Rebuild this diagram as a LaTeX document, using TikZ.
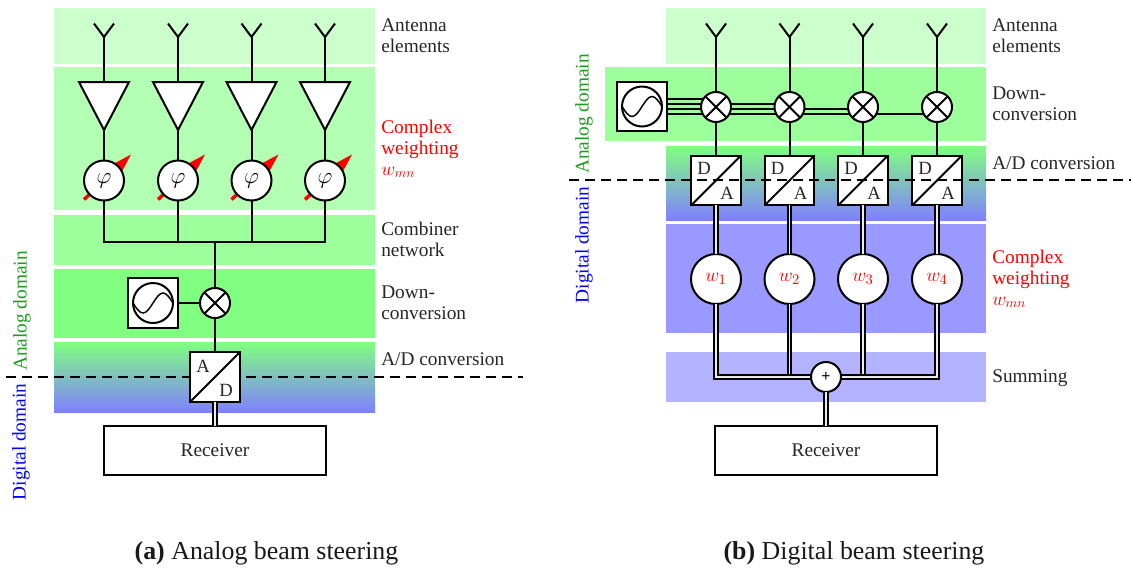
\documentclass[tikz,border=0pt]{standalone}
\usepackage{fontspec}
\setmainfont{Liberation Serif}
\usetikzlibrary{calc}
\definecolor{bandA}{HTML}{CCFFCC}
\definecolor{bandB}{HTML}{B3FFB3}
\definecolor{bandC}{HTML}{9CFF9C}
\definecolor{bandD}{HTML}{80FF80}
\definecolor{bandE}{HTML}{8080FF}
\definecolor{bandF}{HTML}{9999FF}
\definecolor{bandG}{HTML}{B3B3FF}
\definecolor{anagreen}{HTML}{1E9A1E}
\tikzset{
  wire/.style={line width=1.5pt},
  dbl/.style={line width=1.2pt,double=white!92!black,double distance=1.4pt},
  circ/.style={circle,draw,line width=1.5pt,fill=white,inner sep=0pt,outer sep=0pt,minimum size=#1},
  mixer/.style={circ=22.5pt,path picture={
    \draw[line width=1.5pt] (path picture bounding box.45)--(path picture bounding box.225);
    \draw[line width=1.5pt] (path picture bounding box.135)--(path picture bounding box.315);}},
  sq/.style={rectangle,draw,line width=1.7pt,fill=white,inner sep=0pt,outer sep=0pt,minimum size=37pt},
  conv/.style={sq,path picture={
    \draw[line width=1.5pt] (path picture bounding box.south west)--(path picture bounding box.north east);}},
  recv/.style={rectangle,draw,line width=1.5pt,fill=white,outer sep=0pt,minimum width=166pt,minimum height=36.5pt,lab},
  lab/.style={font=\fontsize{14.5}{15.7}\selectfont,inner sep=0pt,text=black!85},
  side/.style={lab,anchor=base west,align=left},
  redlab/.style={side,text=red},
  captext/.style={font=\fontsize{19.4}{22}\selectfont,inner sep=0pt,text=black!90,anchor=base},
  dom/.style={lab,rotate=90,anchor=center},
  amp/.style={draw,line width=1.5pt,fill=white,line join=miter},
  dashline/.style={line width=1.4pt,dash pattern=on 7.5pt off 4.5pt}
}
\begin{document}
\begin{tikzpicture}[x=0.75pt,y=-0.75pt]
\useasboundingbox (0,0) rectangle (1131,569);
% ---------- left bands
\fill[bandA] (54,8) rectangle (375,63.5);
\fill[bandB] (54,67) rectangle (375,210);
\fill[bandC] (54,215) rectangle (375,265);
\fill[bandD] (54,269) rectangle (375,338);
\shade[top color=bandD,bottom color=bandE] (54,342) rectangle (375,412);
% ---------- left dashed line
\coordinate (dlA) at (6,377);
\coordinate (dlB) at (523,377);
\draw[dashline] (dlA) -- (dlB);
% ---------- left columns
\coordinate (bus) at (215,241.5);
\foreach \i/\x in {1/104,2/178,3/251.5,4/325}{
  \coordinate (ant\i) at (\x,37);
  \coordinate (ampT\i) at (\x,82);
  \coordinate (ampP\i) at (\x,130);
  \coordinate (busT\i) at (\x,241.5);
  \draw[wire,line join=miter] ($(ant\i)+(-10,-13.5)$) -- (ant\i) -- ($(ant\i)+(10,-13.5)$);
  \draw[wire] (ant\i) -- (ampT\i);
  \draw[amp] ($(ampT\i)+(-25,0)$) -- ($(ampT\i)+(25,0)$) -- (ampP\i) -- cycle;
  \coordinate (phiC\i) at (\x,180.5);
  \draw[line width=2.6pt,red] ($(phiC\i)+(-20,19)$) -- ($(phiC\i)+(6,-5)$);
  \fill[red] ($(phiC\i)+(27,-26)$) -- ($(phiC\i)+(-0.3,-11.3)$) -- ($(phiC\i)+(12.3,1.3)$) -- cycle;
  \draw[wire] (ampP\i) -- (phiC\i);
  \draw[wire] (phiC\i) -- (busT\i);
  \node[circ=30pt] (phi\i) at (phiC\i) {\fontsize{19}{19}\selectfont$\varphi$};
}
\draw[wire,line cap=rect] (busT1) -- (busT4);
\node[mixer] (mixL) at (215,303) {};
\node[sq] (loL) at (153,303) {};
\node[circ=30pt,fill=none] (loLc) at (loL) {};
\draw[line width=1.1pt] ([xshift=-15pt]loLc.center) sin ++(10,10) cos ++(10,-10) sin ++(10,-10) cos ++(10,10);
\node[conv] (adL) at (215,377) {};
\node[lab,font=\fontsize{14}{14}\selectfont] (adLa) at (203,366) {A};
\node[lab,font=\fontsize{14}{14}\selectfont] (adLd) at (226,390) {D};
\node[recv] (rxL) at (215,450.5) {\raisebox{-4.8pt}[0pt][0pt]{Receiver}};
\draw[wire] (bus) -- (mixL);
\draw[wire] (mixL) -- (adL);
\draw[wire] (loL) -- (mixL);
\draw[dbl] (adL) -- (rxL);
% ---------- left labels
\node[side] (l1) at (381,31) {Antenna};
\node[side] (l2) at (381,52) {elements};
\node[redlab] (l3) at (381,133) {Complex};
\node[redlab] (l4) at (381,154) {weighting};
\node[redlab] (l5) at (381,175) {$w_{mn}$};
\node[side] (l6) at (381,235) {Combiner};
\node[side] (l7) at (381,256) {network};
\node[side] (l8) at (381,298.5) {Down-};
\node[side] (l9) at (381,319.5) {conversion};
\node[side] (l10) at (381,365) {A/D conversion};
\node[dom,text=anagreen] (l11) at (22,311) {Analog domain};
\node[dom,text=blue] (l12) at (21,442) {Digital domain};
\node[captext] (capA) at (266.5,559) {\textbf{(a)} Analog beam steering};
% ---------- right bands
\fill[bandA] (666,8) rectangle (986,63.5);
\fill[bandC] (605,67) rectangle (986,141);
\shade[top color=bandD,bottom color=bandE] (666,146) rectangle (986,220);
\fill[bandF] (666,224) rectangle (986,333);
\fill[bandG] (666,352) rectangle (986,402);
% ---------- right columns
\node[sq] (loR) at (642,106.5) {};
\node[circ=30pt,fill=none] (loRc) at (loR) {};
\draw[line width=1.1pt] ([xshift=-15pt]loRc.center) sin ++(10,10) cos ++(10,-10) sin ++(10,-10) cos ++(10,10);
\foreach \i/\x in {1/716,2/789.5,3/863,4/937}{
  \coordinate (antR\i) at (\x,37);
  \draw[wire,line join=miter] ($(antR\i)+(-10,-13.5)$) -- (antR\i) -- ($(antR\i)+(10,-13.5)$);
  \node[conv] (da\i) at (\x,180.5) {};
  \draw[wire] (antR\i) -- (da\i);
  \node[circ=37.5pt] (w\i) at (\x,279) {\textcolor{red}{\fontsize{15}{15}\selectfont$w_{\i}$}};
  \draw[dbl] (da\i) -- (w\i);
}
\coordinate (sumL) at (716,377);
\coordinate (sumR) at (937,377);
\coordinate (sumM2) at (789.5,376);
\coordinate (sumM3) at (863,376);
\draw[dbl] (w2) -- (sumM2);
\draw[dbl] (w3) -- (sumM3);
\draw[dbl,line join=miter] (w1) -- (sumL) -- (sumR) -- (w4);
% LO feed lines
\foreach \n/\y in {1/99.3,2/104.3,3/109.3,4/114}{
  \coordinate (feed\n) at (667,\y);
}
\coordinate (m1a) at (716,99.3);
\coordinate (m2a) at (789.5,104.3);
\coordinate (m3a) at (863,109.3);
\coordinate (m4a) at (937,114);
\draw[line width=1.25pt] (feed1) -- (m1a);
\draw[line width=1.25pt] (feed2) -- (m2a);
\draw[line width=1.25pt] (feed3) -- (m3a);
\draw[line width=1.25pt] (feed4) -- (m4a);
\foreach \i/\x in {1/716,2/789.5,3/863,4/937}{
  \node[mixer] (mixR\i) at (\x,107) {};
  \node[lab,font=\fontsize{14}{14}\selectfont] (daD\i) at ($(da\i)+(-12,-12)$) {D};
  \node[lab,font=\fontsize{14}{14}\selectfont] (daA\i) at ($(da\i)+(11,13)$) {A};
}
\node[circ=22.5pt] (sum) at (826,377) {\fontsize{12}{12}\selectfont\textbf{+}};
\node[recv] (rxR) at (826,450.5) {\raisebox{-4.8pt}[0pt][0pt]{Receiver}};
\draw[dbl] (sum) -- (rxR);
\coordinate (drA) at (569,180);
\coordinate (drB) at (1131,180);
\draw[dashline] (drA) -- (drB);
% ---------- right labels
\node[side] (r1) at (992,31) {Antenna};
\node[side] (r2) at (992,52) {elements};
\node[side] (r3) at (992,99.5) {Down-};
\node[side] (r4) at (992,120.5) {conversion};
\node[side] (r5) at (992,169) {A/D conversion};
\node[redlab] (r6) at (992,263.5) {Complex};
\node[redlab] (r7) at (992,284.5) {weighting};
\node[redlab] (r8) at (992,305) {$w_{mn}$};
\node[side] (r9) at (992,382) {Summing};
\node[dom,text=anagreen] (r10) at (584,114) {Analog domain};
\node[dom,text=blue] (r11) at (584,245) {Digital domain};
\node[captext] (capB) at (854,559) {\textbf{(b)} Digital beam steering};
\end{tikzpicture}
\end{document}
